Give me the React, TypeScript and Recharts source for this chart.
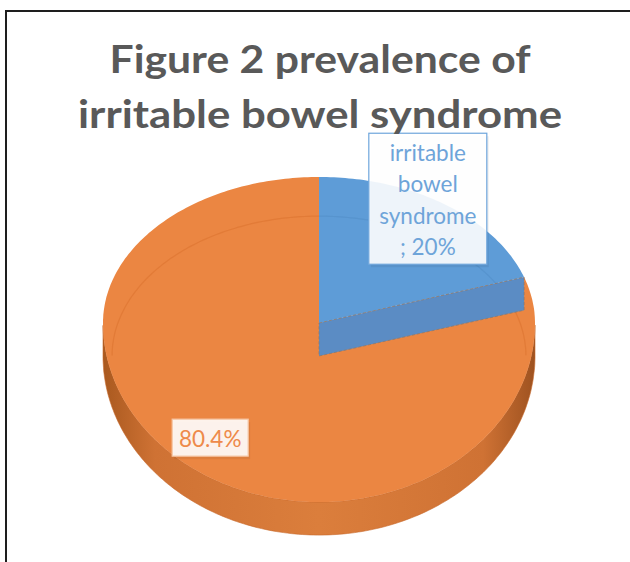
import React from 'react';
import { PieChart, Pie, Cell } from 'recharts';

// slice order: orange first, drawn counter-clockwise from 12 o'clock so blue ends up top-right
const categories = ['no irritable bowel syndrome', 'irritable bowel syndrome'];
const values = [80.4, 20];
const labelLines = [['80.4%'], ['irritable', 'bowel', 'syndrome', '; 20%']];
const titleLines = ['Figure 2 prevalence of', 'irritable bowel syndrome'];

const TOP_COLORS = ['#EB8642', '#5E9CD7'];
const TEXT_COLORS = ['#EE8A4A', '#6EA4D9'];
const BORDER_COLORS = ['#F6C6A4', '#6FA6DC'];

const data = categories.map((name, i) => ({ name, value: values[i], lines: labelLines[i] }));

// fake 3d tilt: upper half flatter than lower half
const RY_TOP = 0.676;
const RY_BOT = 0.829;
const DEPTH = 33;
const RAD = Math.PI / 180;

const pt = (cx: number, cy: number, r: number, deg: number, k = 1) => {
  const s = Math.sin(deg * RAD);
  const ry = s > 0 ? RY_TOP : RY_BOT;
  return [cx + r * k * Math.cos(deg * RAD), cy - r * ry * k * s];
};

const arcAngles = (a0: number, a1: number) => {
  const out: number[] = [];
  const n = Math.max(2, Math.ceil(Math.abs(a1 - a0)));
  for (let i = 0; i <= n; i++) out.push(a0 + ((a1 - a0) * i) / n);
  return out;
};

// split the arc into runs where test() holds
const runs = (angles: number[], test: (a: number) => boolean) => {
  const res: number[][] = [];
  let cur: number[] = [];
  angles.forEach((a) => {
    if (test(a)) cur.push(a);
    else if (cur.length) {
      res.push(cur);
      cur = [];
    }
  });
  if (cur.length) res.push(cur);
  return res.filter((r) => r.length > 1);
};

const toPath = (pts: number[][]) => pts.map((p, i) => `${i ? 'L' : 'M'}${p[0].toFixed(1)},${p[1].toFixed(1)}`).join(' ');

const Slice3D = (props: any) => {
  const { cx, cy, outerRadius: r, startAngle, endAngle, index } = props;
  const angles = arcAngles(startAngle, endAngle);
  const arc = angles.map((a) => pt(cx, cy, r, a));
  const top = `M${cx},${cy} ` + toPath(arc).replace('M', 'L') + ' Z';

  // front rim: the part of the arc in the lower half
  const rims = runs(angles, (a) => Math.sin(a * RAD) <= 0.001).map((seg) => {
    const front = seg.map((a) => pt(cx, cy, r, a));
    const back = front.slice().reverse().map((p) => [p[0], p[1] + DEPTH]);
    return toPath(front.concat(back)) + ' Z';
  });

  // visible cut face at the start edge
  let cut = '';
  if (Math.cos(startAngle * RAD) > 0.01) {
    const e = pt(cx, cy, r, startAngle);
    cut = `M${cx},${cy} L${e[0]},${e[1]} L${e[0]},${e[1] + DEPTH} L${cx},${cy + DEPTH} Z`;
  }

  // bottom ellipse seen through the top face
  const inner = runs(angles, (a) => Math.sin(a * RAD) >= 0).map((seg) => toPath(seg.map((a) => pt(cx, cy + DEPTH, r * 0.958, a))));

  return (
    <g>
      {rims.map((d, i) => (
        <path key={'r' + i} d={d} fill="url(#rimGrad)" stroke="#C8682A" strokeWidth={0.6} />
      ))}
      <path d={top} fill={TOP_COLORS[index]} />
      {inner.map((d, i) => (
        <path key={'i' + i} d={d} fill="none" stroke={index === 0 ? '#D9702C' : '#4F8BC6'} strokeOpacity={0.5} strokeWidth={1.2} />
      ))}
      {cut && <path d={cut} fill="#5B8CC4" stroke="#8A7A70" strokeDasharray="3 2" strokeWidth={0.8} />}
    </g>
  );
};

const renderLabel = (props: any) => {
  const { cx, cy, outerRadius: r, midAngle, index } = props;
  const lines: string[] = data[index].lines;
  const s = Math.sin(midAngle * RAD);
  const x = cx + r * 0.86 * Math.cos(midAngle * RAD);
  const y = cy - r * (s > 0 ? RY_TOP * 1.05 : RY_BOT * 0.79) * s;
  const lh = 31.5;
  const w = lines.length > 1 ? 118 : 76;
  const h = lines.length > 1 ? 131 : 37;
  return (
    <g>
      <rect x={x - w / 2 + 2} y={y - h / 2 + 3} width={w} height={h} fill="#000" fillOpacity={0.06} />
      <rect x={x - w / 2} y={y - h / 2} width={w} height={h} fill="#FFFFFF" fillOpacity={0.9} stroke={BORDER_COLORS[index]} strokeWidth={1.2} />
      {lines.map((t, i) => (
        <text
          key={i}
          x={x}
          y={y - ((lines.length - 1) * lh) / 2 + i * lh + 1}
          textAnchor="middle"
          dominantBaseline="central"
          fill={TEXT_COLORS[index]}
          fontFamily="Lato, 'Open Sans', sans-serif"
          fontSize={22.5}
        >
          {t}
        </text>
      ))}
    </g>
  );
};

export default function App() {
  return (
    <div style={{ position: 'absolute', left: 0, top: 0, width: 630, height: 562, background: '#fff', overflow: 'hidden' }}>
      <svg width={0} height={0} style={{ position: 'absolute' }}>
        <defs>
          <linearGradient id="rimGrad" x1="0" y1="0" x2="1" y2="0">
            <stop offset="0%" stopColor="#A9591F" />
            <stop offset="12%" stopColor="#CF7234" />
            <stop offset="50%" stopColor="#DB7E3C" />
            <stop offset="88%" stopColor="#CF7234" />
            <stop offset="100%" stopColor="#9E5220" />
          </linearGradient>
        </defs>
      </svg>
      <div style={{ position: 'absolute', left: 5, top: 10, right: -10, bottom: -10, borderLeft: '2px solid #1E1E1E', borderTop: '2px solid #1E1E1E' }} />
      <div style={{ position: 'absolute', left: 0, top: 0 }}>
        <PieChart width={630} height={562} margin={{ top: 0, right: 0, bottom: 0, left: 0 }}>
          <Pie
            data={data}
            dataKey="value"
            nameKey="name"
            cx={319}
            cy={323}
            outerRadius={216}
            startAngle={90}
            endAngle={450}
            stroke="none"
            shape={Slice3D}
            label={renderLabel}
            labelLine={false}
            isAnimationActive={false}
          >
            {data.map((_, i) => (
              <Cell key={i} fill={TOP_COLORS[i]} />
            ))}
          </Pie>
        </PieChart>
      </div>
      <svg width={630} height={150} style={{ position: 'absolute', left: 0, top: 0, pointerEvents: 'none' }}>
        {titleLines.map((t, i) => (
          <text
            key={t}
            x={320}
            y={73 + i * 55}
            textAnchor="middle"
            fontFamily="Lato, 'Open Sans', sans-serif"
            fontWeight={700}
            fontSize={39}
            fill="#595959"
            textLength={i === 0 ? 421 : 484}
            lengthAdjust="spacingAndGlyphs"
          >
            {t}
          </text>
        ))}
      </svg>
    </div>
  );
}
